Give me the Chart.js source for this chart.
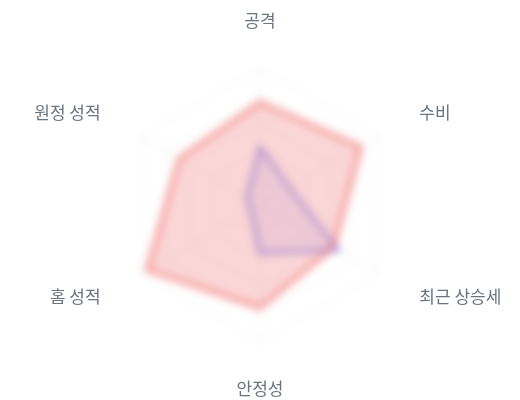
<!DOCTYPE html>
<html lang="ko">
<head>
<meta charset="utf-8">
<script src="https://cdn.jsdelivr.net/npm/chart.js@4"></script>
<style>
  html, body { margin: 0; padding: 0; background: #fff; }
  .wrap { position: relative; width: 520px; height: 400px; }
  .wrap canvas { position: absolute; left: 0; top: 0; }
  #radarChart { filter: blur(4px); }
</style>
</head>
<body>
<div class="wrap">
  <canvas id="radarChart" width="520" height="400"></canvas>
  <canvas id="radarLabels" width="520" height="400"></canvas>
</div>
<script>
// 레이더 차트 데이터
const categories = ['공격', '수비', '최근 상승세', '안정성', '홈 성적', '원정 성적'];
const teamA = [75, 85, 62, 75, 95, 68];
const teamB = [42, 25, 66, 35, 8, 11];
const scaleMin = 0;
const scaleMax = 100;

// 라벨은 흐림 효과 없이 별도 캔버스에 그린다 (축 좌표는 차트 스케일에서 가져옴)
const labelPlugin = {
    id: 'crispLabels',
    afterDraw(chart) {
        const canvas = document.getElementById('radarLabels');
        const ctx = canvas.getContext('2d');
        const r = chart.scales.r;
        ctx.clearRect(0, 0, canvas.width, canvas.height);
        ctx.font = '17px "Noto Sans CJK KR", "Noto Sans", sans-serif';
        ctx.fillStyle = '#6b7280';
        ctx.textBaseline = 'middle';
        categories.forEach((name, i) => {
            const p = r.getPointPosition(i, r.drawingArea + 47);
            const dx = p.x - r.xCenter;
            ctx.textAlign = Math.abs(dx) < 1 ? 'center' : (dx > 0 ? 'left' : 'right');
            ctx.fillText(name, p.x, p.y);
        });
    }
};

new Chart(document.getElementById('radarChart'), {
    type: 'radar',
    data: {
        labels: categories,
        datasets: [{
            label: 'A',
            data: teamA,
            borderColor: 'rgba(239, 68, 68, 0.6)',
            backgroundColor: 'rgba(239, 68, 68, 0.22)',
            borderWidth: 4,
            pointRadius: 0
        }, {
            label: 'B',
            data: teamB,
            borderColor: 'rgba(99, 102, 241, 0.55)',
            backgroundColor: 'rgba(99, 102, 241, 0.1)',
            borderWidth: 4,
            pointRadius: 0
        }]
    },
    options: {
        responsive: false,
        animation: false,
        layout: { padding: { top: 68, bottom: 58, left: 59, right: 59 } },
        plugins: { legend: { display: false }, tooltip: { enabled: false } },
        scales: {
            r: {
                min: scaleMin,
                max: scaleMax,
                ticks: { display: false, stepSize: 20 },
                grid: { color: 'rgba(0,0,0,0.06)' },
                angleLines: { color: 'rgba(0,0,0,0.06)' },
                pointLabels: { display: false }
            }
        }
    },
    plugins: [labelPlugin]
});
</script>
</body>
</html>
